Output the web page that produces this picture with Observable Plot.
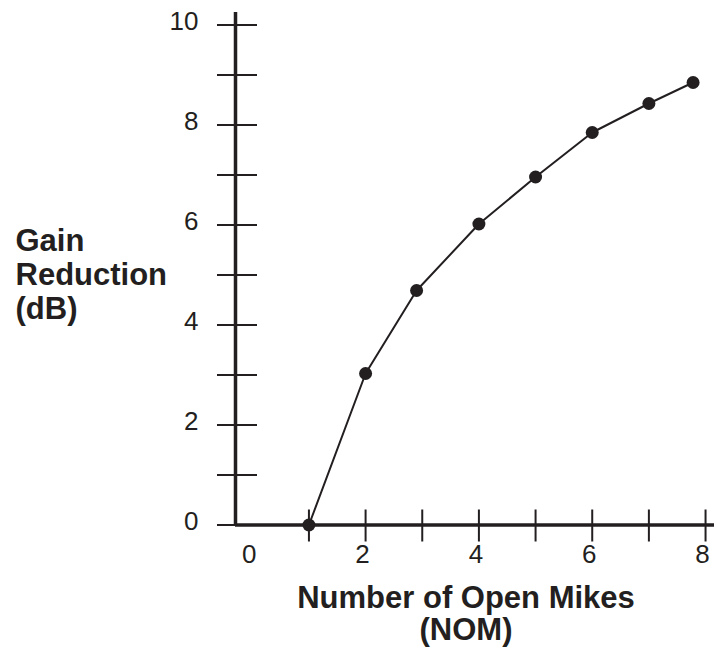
<!DOCTYPE html>
<html>
<head>
<meta charset="utf-8">
<script src="https://cdn.jsdelivr.net/npm/d3@7"></script>
<script src="https://cdn.jsdelivr.net/npm/@observablehq/plot@0.6"></script>
<style>
  html, body { margin: 0; padding: 0; background: #fff; }
  #chart svg { display: block; }
</style>
</head>
<body>
<div id="chart"></div>
<script>
const nom  = [1, 2, 2.9, 4, 5, 6, 7, 7.78];
const gain = [0, 3.03, 4.69, 6.02, 6.96, 7.85, 8.43, 8.85];
const xTickMarks = [1, 2, 3, 4, 5, 6, 7, 8];
const xTickLabels = [0, 2, 4, 6, 8];
const yTickMarks = [0, 1, 2, 3, 4, 5, 6, 7, 8, 9, 10];
const yTickLabels = [0, 2, 4, 6, 8, 10];
const yTitle = "Gain\nReduction\n(dB)";
const xTitle = "Number of Open Mikes\n(NOM)";

const data = nom.map((x, i) => ({x, y: gain[i]}));
const ink = "#231f20";
const font = "'Liberation Sans', Arial, Helvetica, sans-serif";

const chart = Plot.plot({
  width: 714,
  height: 648,
  marginLeft: 235,
  marginRight: 0,
  marginTop: 12,
  marginBottom: 123.5,
  style: {fontFamily: font, color: ink, background: "#fff", overflow: "visible"},
  x: {domain: [-0.296, 8.158]},
  y: {domain: [0, 10.25]},
  marks: [
    // y tick marks crossing the axis
    Plot.axisY({ticks: yTickMarks, tickSize: 40, dx: 22, tickFormat: () => "", stroke: ink, strokeWidth: 2, label: null}),
    // y tick labels
    Plot.axisY({ticks: yTickLabels, tickSize: 0, tickPadding: 37, dy: -3, fontSize: 26, fill: ink, label: null}),
    // x tick marks crossing the axis
    Plot.axisX({ticks: xTickMarks, tickSize: 32, dy: -15, tickFormat: () => "", stroke: ink, strokeWidth: 2, label: null}),
    // x tick labels
    Plot.axisX({ticks: xTickLabels, tickSize: 0, tickPadding: 20, dx: -3, fontSize: 26, fill: ink, label: null}),
    // axis lines
    Plot.ruleY([0], {stroke: ink, strokeWidth: 3.5}),
    Plot.ruleX([-0.296], {y1: 0, y2: 10.25, stroke: ink, strokeWidth: 3.5}),
    // data
    Plot.line(data, {x: "x", y: "y", stroke: ink, strokeWidth: 2}),
    Plot.dot(data, {x: "x", y: "y", r: 6.5, fill: ink, stroke: "none"}),
    // titles
    Plot.text([yTitle], {frameAnchor: "left", dx: -220, dy: 5.5, textAnchor: "start", lineHeight: 1.1,
      fontSize: 31, fontWeight: "bold", fill: ink}),
    Plot.text([xTitle], {frameAnchor: "bottom", dx: -9, dy: 60.5, lineAnchor: "top", lineHeight: 1.03,
      fontSize: 31, fontWeight: "bold", fill: ink})
  ]
});
document.getElementById("chart").appendChild(chart);
</script>
</body>
</html>
